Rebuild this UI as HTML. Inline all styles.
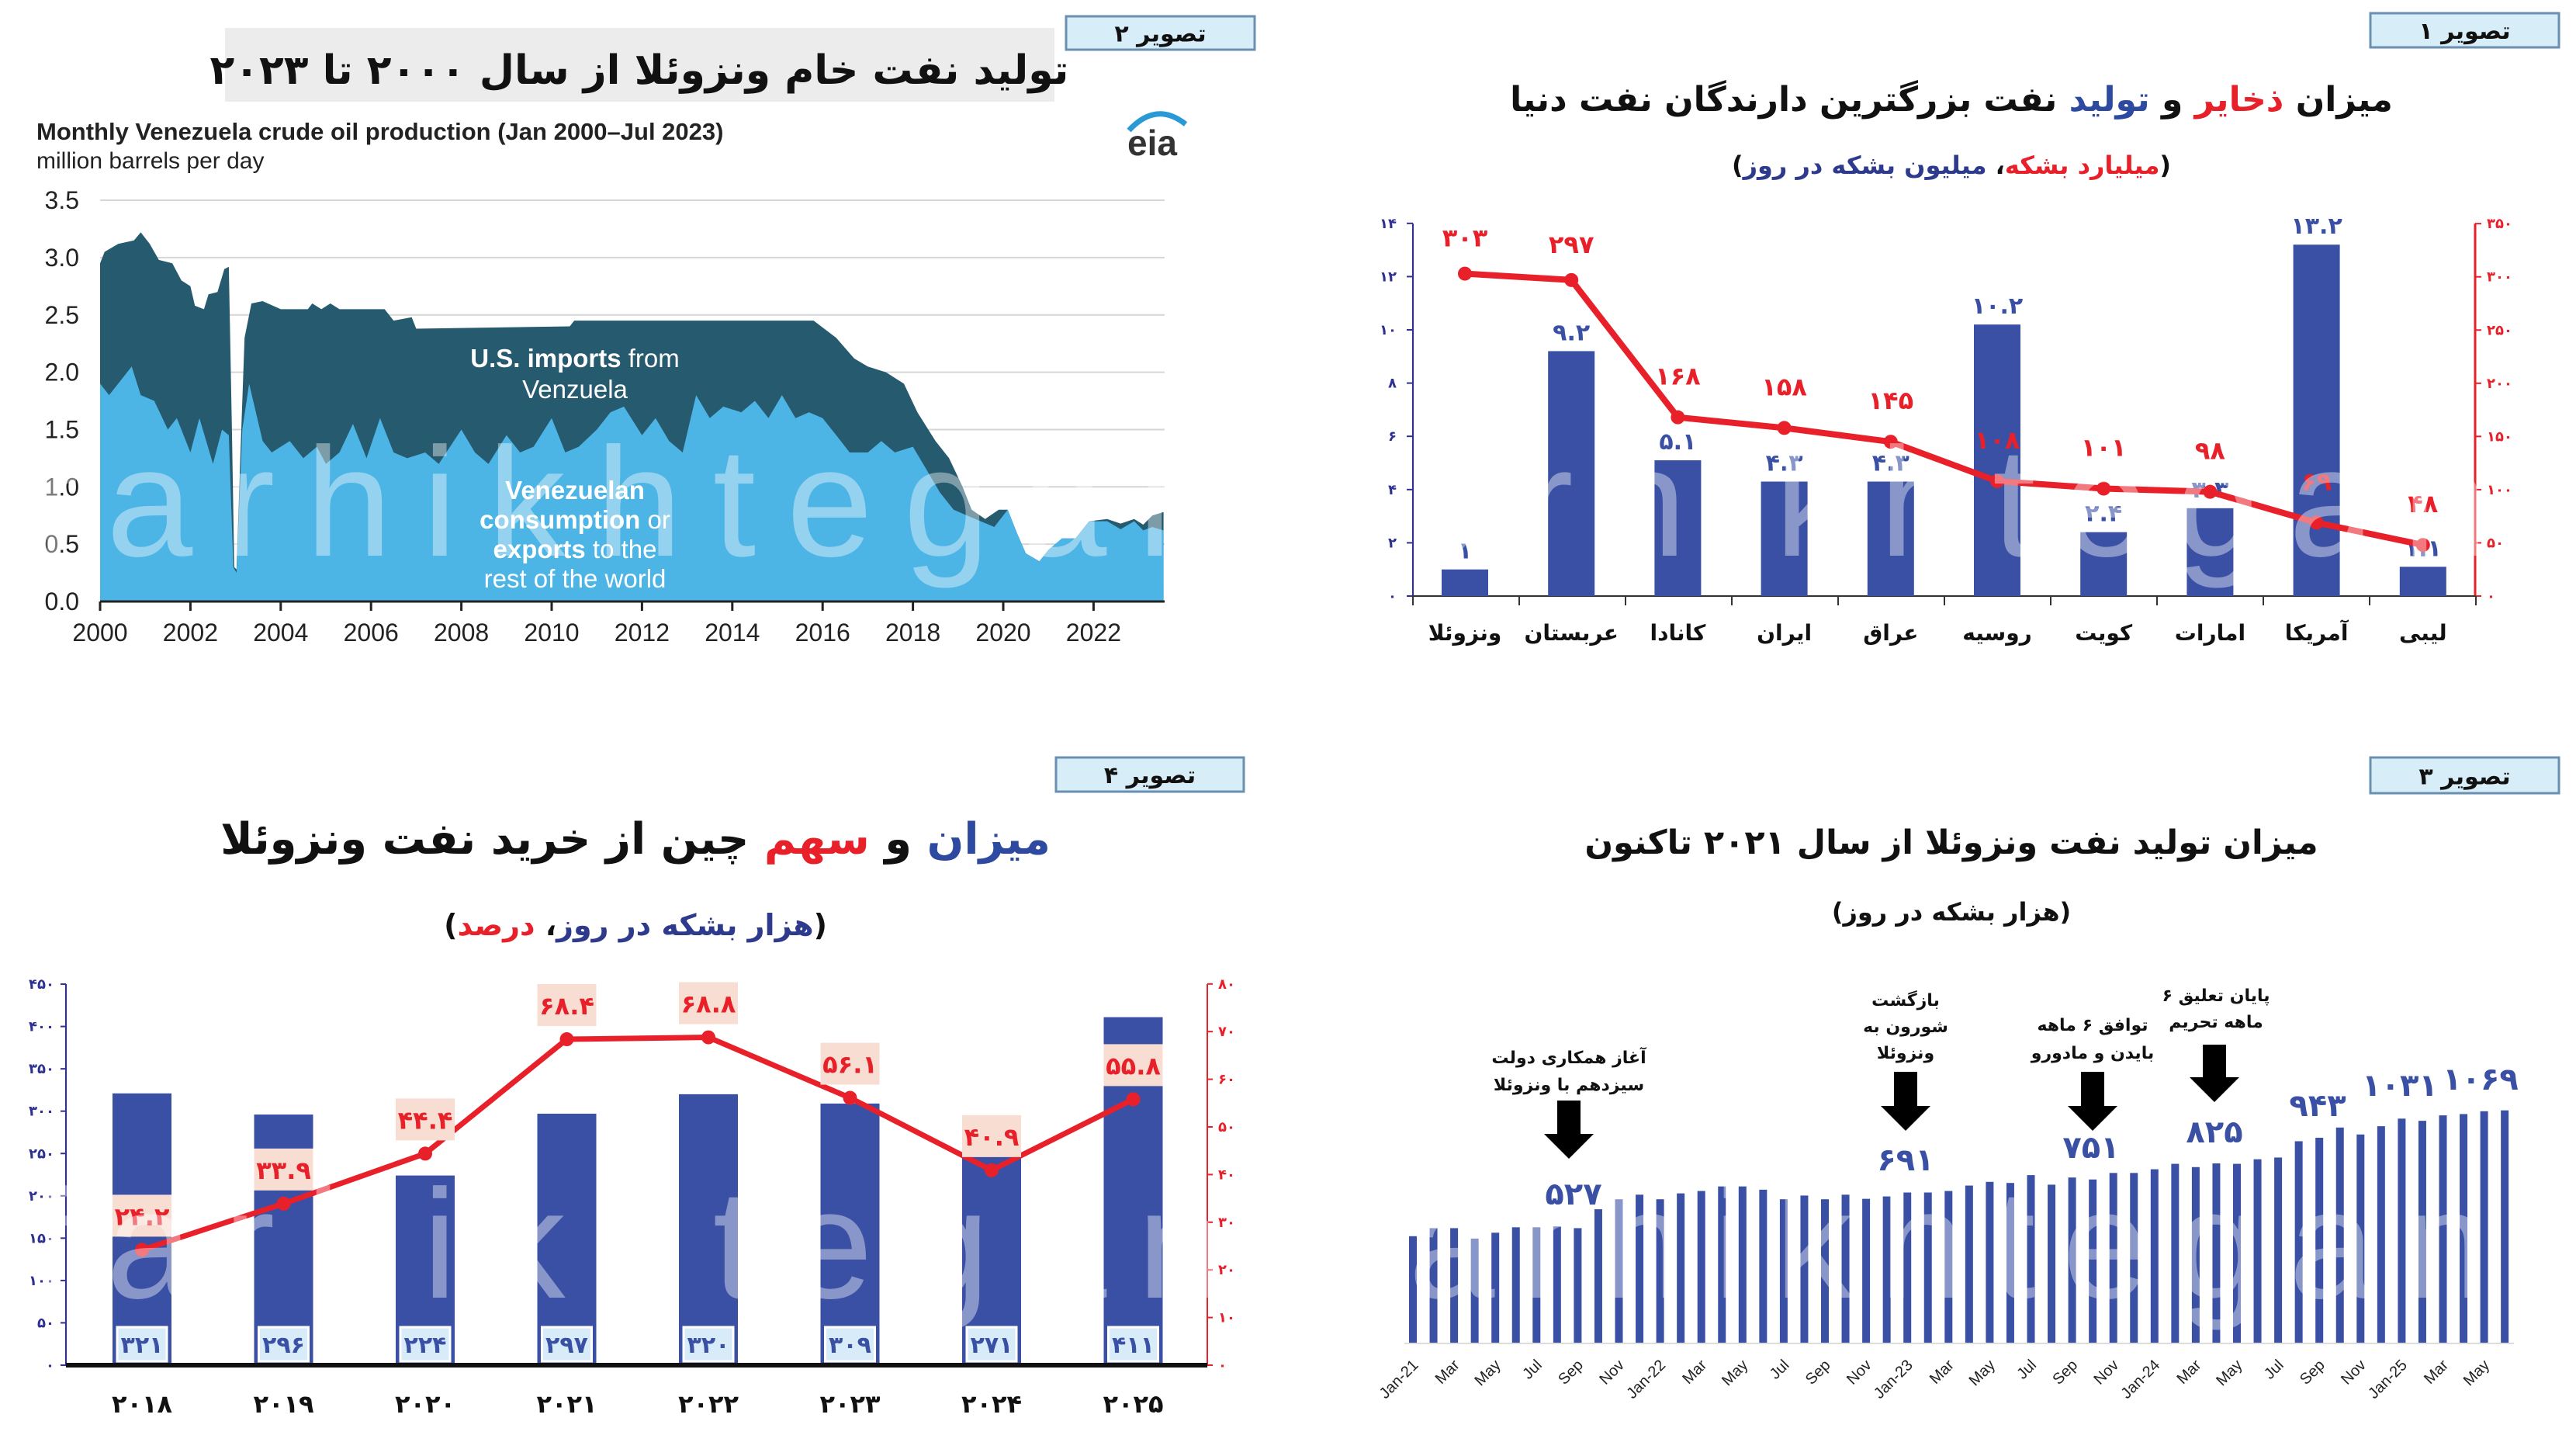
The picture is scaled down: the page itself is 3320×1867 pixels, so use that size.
<!DOCTYPE html>
<html><head><meta charset="utf-8">
<style>
html,body{margin:0;padding:0;background:#fff;}
svg{display:block;}
.fa{font-family:"DejaVu Sans",sans-serif;font-weight:bold;}
.en{font-family:"Liberation Sans",sans-serif;}
</style></head>
<body>
<svg id="s" width="3320" height="1867" viewBox="0 0 3320 1867" xmlns="http://www.w3.org/2000/svg"></svg>
<script>
const S=document.getElementById('s');let h='';
function t(x,y,s,sz,fill,cls,anchor,extra){h+=`<text x="${x}" y="${y}" font-size="${sz}" fill="${fill}" class="${cls}" text-anchor="${anchor||'middle'}" ${extra||''}>${s}</text>`;}
function fa(n){return String(n).replace(/[0-9]/g,d=>'۰۱۲۳۴۵۶۷۸۹'[d]);}
function box(x,y,w,hh,label){h+=`<rect x="${x}" y="${y}" width="${w}" height="${hh}" fill="#d7eef9" stroke="#6a8fb0" stroke-width="3"/>`;t(x+w/2,y+hh*0.75,label,30,'#111','fa','middle','direction="rtl"');}

/* ===== Chart 2 (top-left) ===== */
box(1374,21,243,43,'تصویر ۲');
h+=`<rect x="290" y="36" width="1069" height="95" fill="#ececec"/>`;
t(824,108,'تولید نفت خام ونزوئلا از سال ۲۰۰۰ تا ۲۰۲۳',52,'#111','fa','middle','direction="rtl"');
t(47,180,'Monthly Venezuela crude oil production (Jan 2000–Jul 2023)',31,'#222','en','start','font-weight="bold"');
t(47,217,'million barrels per day',30,'#222','en','start');
t(1485,200,'eia',46,'#333','en','middle','font-weight="bold"');
h+=`<path d="M1455 168 Q1490 130 1528 160" stroke="#2a9ad6" stroke-width="7" fill="none"/>`;
const X2=y=>129+(y-2000)*58.2, Y2=v=>775-v*147.7;
for(let v=0;v<=3.5;v+=0.5){h+=`<line x1="129" x2="1501" y1="${Y2(v)}" y2="${Y2(v)}" stroke="#d6d6d6" stroke-width="2"/>`;t(102,Y2(v)+11,v.toFixed(1),32,'#222','en','end');}
const tot=[[2000,2.95],[2000.1,3.05],[2000.4,3.12],[2000.75,3.15],[2000.9,3.22],[2001.1,3.12],[2001.3,2.98],[2001.6,2.95],[2001.8,2.8],[2002,2.75],[2002.1,2.58],[2002.3,2.55],[2002.4,2.68],[2002.6,2.7],[2002.75,2.9],[2002.85,2.92],[2002.92,1.5],[2002.97,0.3],[2003.02,0.28],[2003.1,1.2],[2003.2,2.3],[2003.35,2.6],[2003.6,2.62],[2004,2.55],[2004.6,2.55],[2004.7,2.6],[2004.9,2.55],[2005.1,2.6],[2005.3,2.55],[2006.3,2.55],[2006.5,2.45],[2006.9,2.48],[2007,2.38],[2010.4,2.4],[2010.5,2.45],[2015.8,2.45],[2016.3,2.3],[2016.7,2.12],[2017,2.05],[2017.4,2.0],[2017.8,1.9],[2018.1,1.65],[2018.5,1.4],[2018.8,1.25],[2019.1,1.0],[2019.3,0.8],[2019.6,0.72],[2019.9,0.8],[2020.1,0.8],[2020.3,0.6],[2020.5,0.42],[2020.8,0.35],[2021,0.45],[2021.3,0.55],[2021.6,0.55],[2021.9,0.7],[2022.3,0.72],[2022.6,0.68],[2022.9,0.72],[2023.1,0.67],[2023.3,0.75],[2023.55,0.78]];
const con=[[2000,1.9],[2000.2,1.8],[2000.5,1.95],[2000.7,2.05],[2000.9,1.8],[2001.2,1.75],[2001.5,1.5],[2001.7,1.6],[2002,1.3],[2002.2,1.6],[2002.5,1.2],[2002.7,1.5],[2002.85,1.45],[2002.95,0.3],[2003.02,0.25],[2003.15,1.5],[2003.3,1.9],[2003.6,1.4],[2003.8,1.3],[2004.2,1.4],[2004.5,1.25],[2004.8,1.35],[2005,1.2],[2005.3,1.3],[2005.6,1.55],[2005.9,1.25],[2006.2,1.6],[2006.5,1.3],[2006.8,1.25],[2007.2,1.3],[2007.5,1.2],[2008,1.5],[2008.3,1.3],[2008.6,1.2],[2009,1.45],[2009.3,1.3],[2009.6,1.35],[2010,1.6],[2010.3,1.3],[2010.6,1.35],[2011,1.5],[2011.3,1.65],[2011.6,1.7],[2012,1.45],[2012.3,1.6],[2012.6,1.4],[2012.9,1.3],[2013.2,1.8],[2013.5,1.6],[2013.8,1.7],[2014.2,1.65],[2014.5,1.75],[2014.8,1.6],[2015.1,1.8],[2015.4,1.6],[2015.7,1.65],[2016,1.6],[2016.3,1.45],[2016.6,1.3],[2017,1.3],[2017.3,1.4],[2017.6,1.3],[2018,1.35],[2018.3,1.15],[2018.6,0.95],[2018.9,0.8],[2019.2,0.75],[2019.5,0.7],[2019.8,0.65],[2020.1,0.8],[2020.3,0.6],[2020.5,0.42],[2020.8,0.35],[2021,0.45],[2021.3,0.55],[2021.6,0.55],[2021.9,0.7],[2022.3,0.7],[2022.6,0.63],[2022.9,0.7],[2023.1,0.62],[2023.3,0.65],[2023.55,0.62]];
function area(d,fill){let p=`M${X2(d[0][0])} ${Y2(0)}`;d.forEach(q=>p+=` L${X2(q[0]).toFixed(1)} ${Y2(q[1]).toFixed(1)}`);p+=` L${X2(d[d.length-1][0])} ${Y2(0)} Z`;h+=`<path d="${p}" fill="${fill}"/>`;}
area(tot,'#265a6e');area(con,'#4db5e5');
h+=`<line x1="129" x2="1501" y1="775" y2="775" stroke="#222" stroke-width="3"/>`;
for(let y=2000;y<=2022;y+=2){h+=`<line x1="${X2(y)}" x2="${X2(y)}" y1="775" y2="787" stroke="#222" stroke-width="3"/>`;t(X2(y),826,y,32,'#222','en');}
t(741,473,'<tspan font-weight="bold">U.S. imports</tspan> from',33,'#fff','en');t(741,513,'Venzuela',33,'#fff','en');
['<tspan font-weight="bold">Venezuelan</tspan>','<tspan font-weight="bold">consumption</tspan> or','<tspan font-weight="bold">exports</tspan> to the','rest of the world'].forEach((s,i)=>t(741,643+i*38,s,33,'#fff','en'));

/* ===== Chart 1 (top-right) ===== */
box(3055,17,243,44,'تصویر ۱');
h+=`<text x="2515" y="143" font-size="44" class="fa" text-anchor="middle" direction="rtl" fill="#111">میزان <tspan fill="#e8202a">ذخایر</tspan> و <tspan fill="#2e4aa0">تولید</tspan> نفت بزرگترین دارندگان نفت دنیا</text>`;
h+=`<text x="2515" y="224" font-size="32" class="fa" text-anchor="middle" direction="rtl" fill="#111">(<tspan fill="#e8202a">میلیارد بشکه</tspan>، <tspan fill="#2e3a8c">میلیون بشکه در روز</tspan>)</text>`;
const L1=v=>768-v*34.3, R1=v=>768-v*1.371;
h+=`<line x1="1821" x2="1821" y1="288" y2="768" stroke="#2e3192" stroke-width="2"/><line x1="3190" x2="3190" y1="288" y2="768" stroke="#e8202a" stroke-width="3"/><line x1="1821" x2="3190" y1="768" y2="768" stroke="#333" stroke-width="2"/>`;
for(let v=0;v<=14;v+=2){h+=`<line x1="1813" x2="1821" y1="${L1(v)}" y2="${L1(v)}" stroke="#2e3192" stroke-width="2"/>`;t(1800,L1(v)+6,fa(v),18,'#2e3192','fa','end');}
for(let v=0;v<=350;v+=50){h+=`<line x1="3190" x2="3198" y1="${R1(v)}" y2="${R1(v)}" stroke="#e8202a" stroke-width="2"/>`;t(3205,R1(v)+6,fa(v),18,'#e8202a','fa','start');}
const cats=['ونزوئلا','عربستان','کانادا','ایران','عراق','روسیه','کویت','امارات','آمریکا','لیبی'];
const bv=[1,9.2,5.1,4.3,4.3,10.2,2.4,3.3,13.2,1.1],lv=[303,297,168,158,145,108,101,98,69,48];
const cx1=i=>1888+i*137.2;
for(let i=0;i<=10;i++){const x=1821+i*137;h+=`<line x1="${x}" x2="${x}" y1="768" y2="780" stroke="#333" stroke-width="2"/>`;}
bv.forEach((v,i)=>{h+=`<rect x="${cx1(i)-30}" y="${L1(v)}" width="60" height="${768-L1(v)}" fill="#3a50a5"/>`;t(cx1(i),L1(v)-14,fa(v),30,'#3a50a5','fa');t(cx1(i),825,cats[i],28,'#111','fa','middle','direction="rtl"');});
let pl=lv.map((v,i)=>`${cx1(i)},${R1(v)}`).join(' ');
h+=`<polyline points="${pl}" fill="none" stroke="#e8202a" stroke-width="8"/>`;
lv.forEach((v,i)=>{h+=`<circle cx="${cx1(i)}" cy="${R1(v)}" r="9" fill="#e8202a"/>`;t(cx1(i),R1(v)-(i<2?35:42),fa(v),32,'#e8202a','fa');});

/* ===== Chart 4 (bottom-left) ===== */
box(1361,976,242,44,'تصویر ۴');
h+=`<text x="819" y="1100" font-size="56" class="fa" text-anchor="middle" direction="rtl" fill="#111"><tspan fill="#2e4aa0">میزان</tspan> و <tspan fill="#e8202a">سهم</tspan> چین از خرید نفت ونزوئلا</text>`;
h+=`<text x="819" y="1205" font-size="38" class="fa" text-anchor="middle" direction="rtl" fill="#111">(<tspan fill="#2e3a8c">هزار بشکه در روز</tspan>، <tspan fill="#e8202a">درصد</tspan>)</text>`;
const L4=v=>1759-v*1.091, R4=v=>1759-v*6.14;
h+=`<line x1="85" x2="85" y1="1268" y2="1759" stroke="#2e3192" stroke-width="2"/><line x1="1556" x2="1556" y1="1268" y2="1759" stroke="#e8202a" stroke-width="2"/>`;
for(let v=0;v<=450;v+=50){h+=`<line x1="78" x2="85" y1="${L4(v)}" y2="${L4(v)}" stroke="#2e3192" stroke-width="2"/>`;t(70,L4(v)+6,fa(v),18,'#2e3192','fa','end');}
for(let v=0;v<=80;v+=10){h+=`<line x1="1556" x2="1563" y1="${R4(v)}" y2="${R4(v)}" stroke="#e8202a" stroke-width="2"/>`;t(1570,R4(v)+6,fa(v),18,'#e8202a','fa','start');}
const b4=[321,296,224,297,320,309,271,411],l4=[24.2,33.9,44.4,68.4,68.8,56.1,40.9,55.8];
const cx4=i=>183+i*182.5;
b4.forEach((v,i)=>{h+=`<rect x="${cx4(i)-38}" y="${L4(v)}" width="76" height="${1759-L4(v)}" fill="#3a50a5"/>`;h+=`<rect x="${cx4(i)-32}" y="1710" width="64" height="44" fill="#d8ebf8" stroke="#fff" stroke-width="3"/>`;t(cx4(i),1743,fa(v),30,'#3a50a5','fa');t(cx4(i),1820,fa(2018+i),32,'#111','fa');});
h+=`<line x1="85" x2="1556" y1="1759" y2="1759" stroke="#111" stroke-width="6"/>`;
h+=`<polyline points="${l4.map((v,i)=>cx4(i)+','+R4(v)).join(' ')}" fill="none" stroke="#e8202a" stroke-width="7"/>`;
l4.forEach((v,i)=>{const y=R4(v);h+=`<circle cx="${cx4(i)}" cy="${y}" r="9" fill="#e8202a"/>`;const c=y-44;h+=`<rect x="${cx4(i)-38}" y="${c-27}" width="76" height="54" fill="#f8ddd2"/>`;t(cx4(i),c+12,fa(v),32,'#e8202a','fa');});

/* ===== Chart 3 (bottom-right) ===== */
box(3055,976,243,46,'تصویر ۳');
t(2515,1100,'میزان تولید نفت ونزوئلا از سال ۲۰۲۱ تاکنون',43,'#111','fa','middle','direction="rtl"');
t(2515,1186,'(هزار بشکه در روز)',32,'#111','fa','middle','direction="rtl"');
const v3=[490,527,527,479,506,531,531,535,527,614,660,681,660,687,698,719,719,704,660,677,660,681,662,673,691,691,698,723,740,735,771,727,760,751,781,781,798,823,808,825,823,844,852,927,943,990,958,996,1031,1021,1046,1052,1065,1069];
const bx=i=>1821+i*26.55;
h+=`<line x1="1810" x2="3240" y1="1731" y2="1731" stroke="#ddd" stroke-width="2"/>`;
v3.forEach((v,i)=>{h+=`<rect x="${bx(i)-5}" y="${1730-v*0.28}" width="10" height="${v*0.28}" fill="#3a50a5"/>`;});
const mons=['Jan','Mar','May','Jul','Sep','Nov'];
for(let i=0;i<54;i+=2){const m=i%12,y=21+Math.floor(i/12);const lab=m==0?`Jan-${y}`:mons[m/2];h+=`<text x="${bx(i)+8}" y="1760" font-size="20" class="en" fill="#222" text-anchor="end" transform="rotate(-45 ${bx(i)+8} 1760)">${lab}</text>`;}
[[2028,1552,'۵۲۷'],[2456,1508,'۶۹۱'],[2695,1492,'۷۵۱'],[2854,1472,'۸۲۵'],[2987,1438,'۹۴۳'],[3093,1412,'۱۰۳۱'],[3197,1404,'۱۰۶۹']].forEach(a=>t(a[0],a[1],a[2],40,'#3a50a5','fa'));
function arrow(x,y1,y2){h+=`<path d="M${x-15} ${y1} H${x+15} V${y2-32} H${x+32} L${x} ${y2} L${x-32} ${y2-32} H${x-15} Z" fill="#000"/>`;}
arrow(2022,1418,1493);arrow(2456,1381,1457);arrow(2697,1381,1457);arrow(2854,1346,1420);
[[2022,1370,'آغاز همکاری دولت'],[2022,1405,'سیزدهم با ونزوئلا'],[2456,1296,'بازگشت'],[2456,1330,'شورون به'],[2456,1364,'ونزوئلا'],[2697,1328,'توافق ۶ ماهه'],[2697,1364,'بایدن و مادورو'],[2856,1290,'پایان تعلیق ۶'],[2856,1324,'ماهه تحریم']].forEach(a=>t(a[0],a[1],a[2],22,'#111','fa','middle','direction="rtl"'));

/* ===== Watermarks ===== */
[[42,716,1535],[1725,716,1482],[42,1672,1535],[1725,1672,1482]].forEach(w=>{h+=`<text x="${w[0]}" y="${w[1]}" font-size="200" class="en" fill="#fff" fill-opacity="0.4" textLength="${w[2]}" lengthAdjust="spacing">farhikhtegan</text>`;});
S.innerHTML=h;
</script>
</body></html>
